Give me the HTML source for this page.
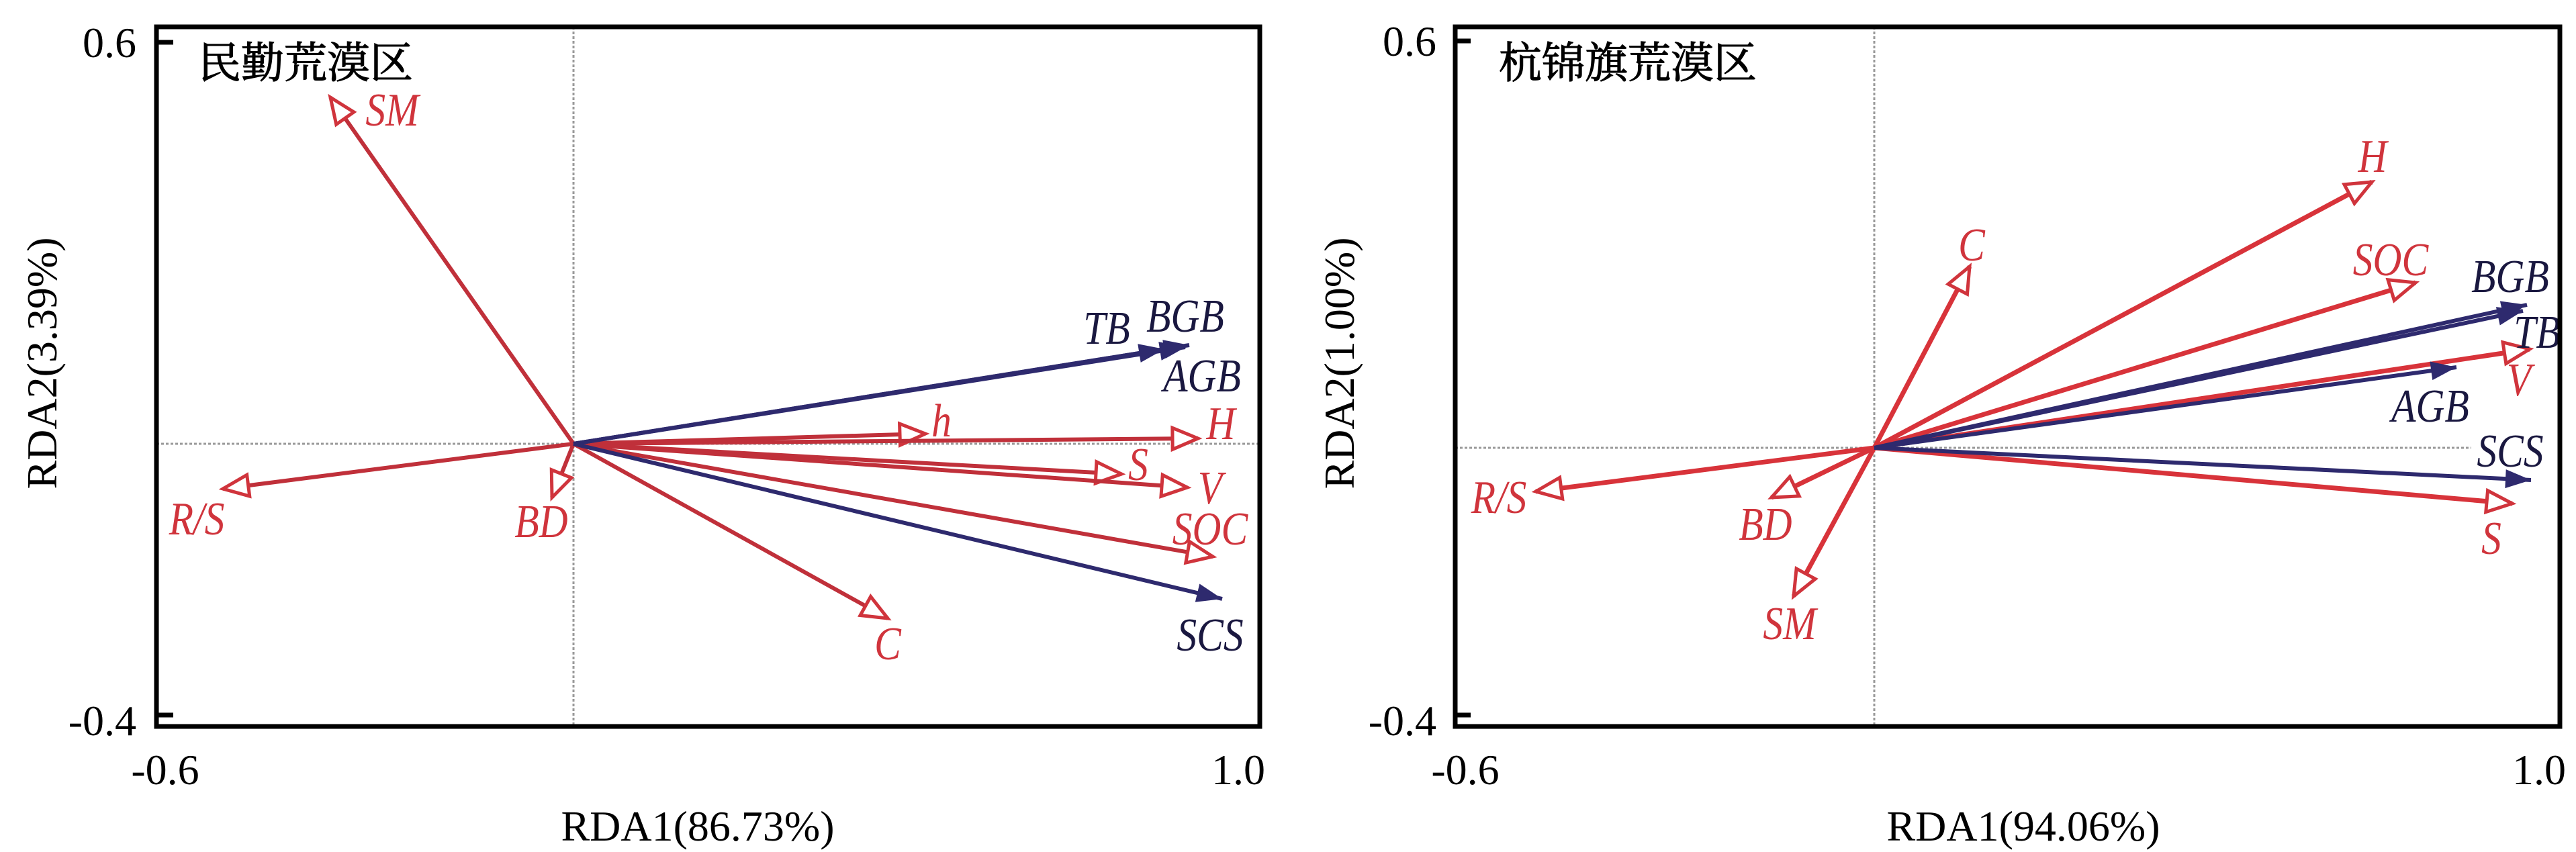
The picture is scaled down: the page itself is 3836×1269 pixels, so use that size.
<!DOCTYPE html>
<html><head><meta charset="utf-8"><style>
html,body{margin:0;padding:0;background:#fff;}
svg{display:block;}
.t{font-family:"Liberation Serif",serif;font-size:64px;fill:#000;}
.lab{font-family:"Liberation Serif",serif;font-style:italic;font-size:70px;text-anchor:middle;}
.r{fill:#d0343c;} .b{fill:#1a1840;}
.cn{font-family:"Liberation Serif","Noto Serif CJK SC",serif;font-size:64px;fill:#000;stroke:#000;stroke-width:1.2;}
</style></head><body>
<svg width="3836" height="1269" viewBox="0 0 3836 1269" xmlns="http://www.w3.org/2000/svg">
<defs>
<marker id="ro" markerUnits="userSpaceOnUse" markerWidth="50" markerHeight="44" refX="42" refY="20" orient="auto"><path d="M4,4 L42,20 L4,36 Z" fill="#fff" stroke="#d0343c" stroke-width="5"/></marker>
<marker id="bf" markerUnits="userSpaceOnUse" markerWidth="50" markerHeight="44" refX="40" refY="18" orient="auto"><path d="M2,4 L40,18 L2,32 Z" fill="#2e2a6e"/></marker>
</defs>

<!-- LEFT PANEL -->
<g>
<line x1="854" y1="40" x2="854" y2="1082" stroke="#999" stroke-width="3" stroke-dasharray="4,3"/>
<line x1="233" y1="661" x2="1876" y2="661" stroke="#999" stroke-width="3" stroke-dasharray="4,3"/>
<g stroke="#c0303a" stroke-width="6" fill="none" marker-end="url(#ro)">
<line x1="854" y1="661" x2="492" y2="145"/>
<line x1="854" y1="661" x2="1378" y2="646"/>
<line x1="854" y1="661" x2="1784" y2="653"/>
<line x1="854" y1="661" x2="1670" y2="706"/>
<line x1="854" y1="661" x2="1768" y2="726"/>
<line x1="854" y1="661" x2="1806" y2="829"/>
<line x1="854" y1="661" x2="1322" y2="921"/>
<line x1="854" y1="661" x2="822" y2="741"/>
<line x1="854" y1="661" x2="332" y2="728"/>
</g>
<g stroke="#2e2a6e" stroke-width="6" fill="none" marker-end="url(#bf)">
<line x1="854" y1="661" x2="1771" y2="514"/>
<line x1="854" y1="661" x2="1734" y2="520"/>
<line x1="854" y1="661" x2="1765" y2="517"/>
<line x1="854" y1="661" x2="1820" y2="892"/>
</g>
<g class="lab">
<text class="r" transform="translate(584,187) scale(0.85,1)">SM</text>
<text class="b" transform="translate(1648,512) scale(0.85,1)">TB</text>
<text class="b" transform="translate(1765,494) scale(0.85,1)">BGB</text>
<text class="b" transform="translate(1790,583) scale(0.85,1)">AGB</text>
<text class="r" transform="translate(1402,650) scale(0.85,1)">h</text>
<text class="r" transform="translate(1818,654) scale(0.85,1)">H</text>
<text class="r" transform="translate(1695,715) scale(0.85,1)">S</text>
<text class="r" transform="translate(1802,750) scale(0.85,1)">V</text>
<text class="r" transform="translate(1802,811) scale(0.85,1)">SOC</text>
<text class="b" transform="translate(1802,969) scale(0.85,1)">SCS</text>
<text class="r" transform="translate(1322,982) scale(0.85,1)">C</text>
<text class="r" transform="translate(806,800) scale(0.85,1)">BD</text>
<text class="r" transform="translate(293,796) scale(0.85,1)">R/S</text>
</g>
<rect x="233" y="40" width="1643" height="1042" fill="none" stroke="#000" stroke-width="7"/>
<line x1="233" y1="63" x2="258" y2="63" stroke="#000" stroke-width="7"/>
<line x1="233" y1="1065" x2="258" y2="1065" stroke="#000" stroke-width="7"/>
<text class="t" x="203" y="85" text-anchor="end">0.6</text>
<text class="t" x="203" y="1095" text-anchor="end">-0.4</text>
<text class="t" x="246" y="1168" text-anchor="middle">-0.6</text>
<text class="t" x="1844" y="1168" text-anchor="middle">1.0</text>
<text class="t" x="1039" y="1252" text-anchor="middle" font-size="68">RDA1(86.73%)</text>
<text class="t" transform="translate(84,541) rotate(-90)" text-anchor="middle" font-size="68">RDA2(3.39%)</text>
<text class="cn" x="295" y="116">民勤荒漠区</text>
</g>

<!-- RIGHT PANEL -->
<g>
<line x1="2791" y1="40" x2="2791" y2="1082" stroke="#999" stroke-width="3" stroke-dasharray="4,3"/>
<line x1="2167" y1="667" x2="3680" y2="667" stroke="#999" stroke-width="3" stroke-dasharray="4,3"/>
<g stroke="#d8333a" stroke-width="7" fill="none" marker-end="url(#ro)">
<line x1="2791" y1="667" x2="3532" y2="271"/>
<line x1="2791" y1="667" x2="2933" y2="397"/>
<line x1="2791" y1="667" x2="3597" y2="421"/>
<line x1="2791" y1="667" x2="3767" y2="520"/>
<line x1="2791" y1="667" x2="3741" y2="750"/>
<line x1="2791" y1="667" x2="2287" y2="732"/>
<line x1="2791" y1="667" x2="2638" y2="741"/>
<line x1="2791" y1="667" x2="2671" y2="888"/>
</g>
<g stroke="#2e2a6e" stroke-width="6" fill="none" marker-end="url(#bf)">
<line x1="2791" y1="667" x2="3763" y2="454"/>
<line x1="2791" y1="667" x2="3757" y2="463"/>
<line x1="2791" y1="667" x2="3658" y2="547"/>
<line x1="2791" y1="667" x2="3769" y2="715"/>
</g>
<g class="lab">
<text class="r" transform="translate(3533,256) scale(0.85,1)">H</text>
<text class="r" transform="translate(2936,388) scale(0.85,1)">C</text>
<text class="r" transform="translate(3560,410) scale(0.85,1)">SOC</text>
<text class="b" transform="translate(3738,435) scale(0.85,1)">BGB</text>
<text class="b" transform="translate(3778,518) scale(0.85,1)">TB</text>
<text class="r" transform="translate(3751,589) scale(0.85,1)">V</text>
<text class="b" transform="translate(3619,628) scale(0.85,1)">AGB</text>
<text class="b" transform="translate(3738,695) scale(0.85,1)">SCS</text>
<text class="r" transform="translate(3710,825) scale(0.85,1)">S</text>
<text class="r" transform="translate(2232,764) scale(0.85,1)">R/S</text>
<text class="r" transform="translate(2629,804) scale(0.85,1)">BD</text>
<text class="r" transform="translate(2665,952) scale(0.85,1)">SM</text>
</g>
<rect x="2167" y="40" width="1645" height="1042" fill="none" stroke="#000" stroke-width="7"/>
<line x1="2167" y1="61" x2="2190" y2="61" stroke="#000" stroke-width="7"/>
<line x1="2167" y1="1065" x2="2190" y2="1065" stroke="#000" stroke-width="7"/>
<text class="t" x="2139" y="83" text-anchor="end">0.6</text>
<text class="t" x="2139" y="1095" text-anchor="end">-0.4</text>
<text class="t" x="2182" y="1168" text-anchor="middle">-0.6</text>
<text class="t" x="3781" y="1168" text-anchor="middle">1.0</text>
<text class="t" x="3013" y="1252" text-anchor="middle" font-size="68">RDA1(94.06%)</text>
<text class="t" transform="translate(2016,541) rotate(-90)" text-anchor="middle" font-size="68">RDA2(1.00%)</text>
<text class="cn" x="2232" y="116">杭锦旗荒漠区</text>
</g>
</svg>
</body></html>
